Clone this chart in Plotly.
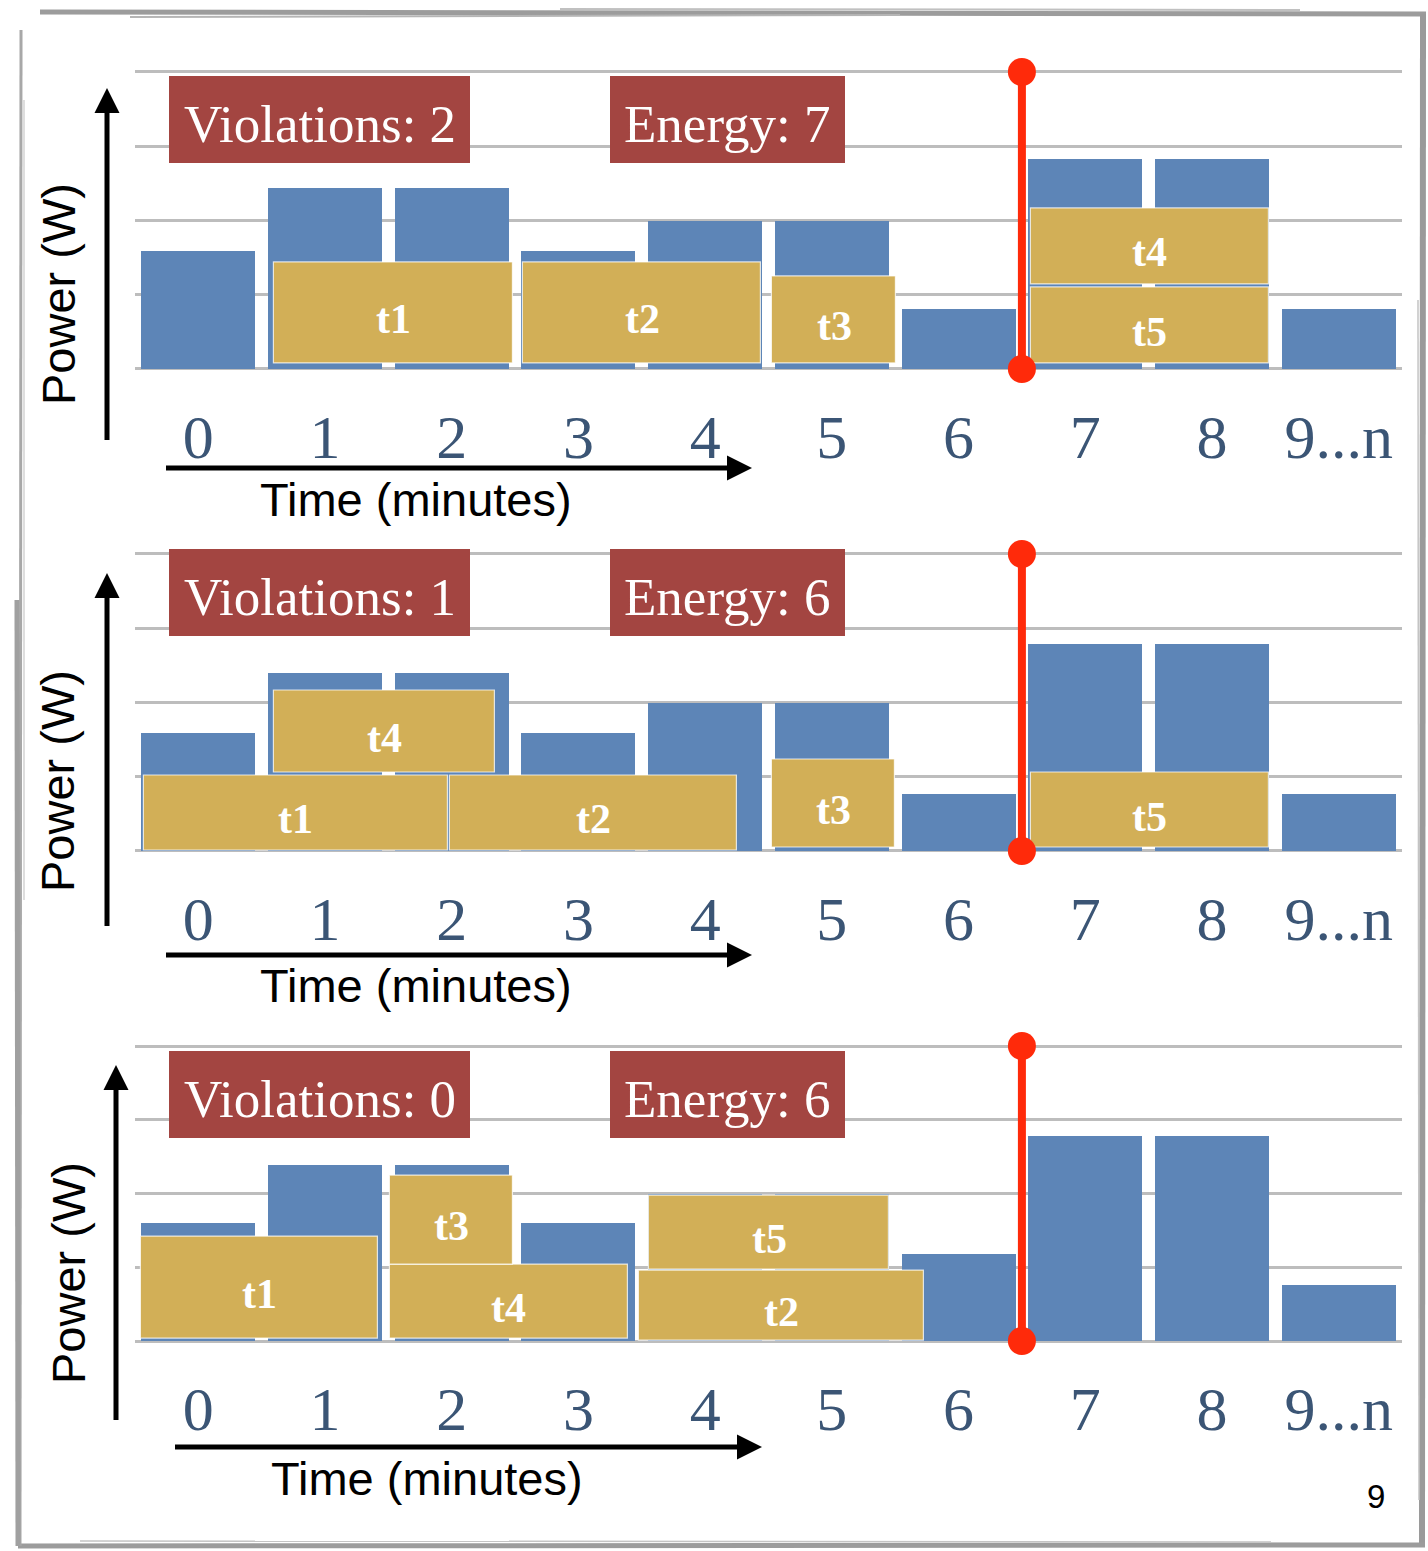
import plotly.graph_objects as go

W, H = 1428, 1551

# ---------------- data ----------------
slots = [0, 1, 2, 3, 4, 5, 6, 7, 8, 9]
slot_labels = ["0", "1", "2", "3", "4", "5", "6", "7", "8", "9...n"]

# available power per minute (grid units)
power_a = [1.60, 2.44, 2.44, 1.60, 2.00, 2.00, 0.82, 2.83, 2.83, 0.82]
power_b = [1.60, 2.40, 2.40, 1.60, 2.00, 2.00, 0.78, 2.80, 2.80, 0.78]
power_c = [1.60, 2.39, 2.39, 1.60, 2.00, 2.00, 1.19, 2.79, 2.79, 0.76]

# scheduled tasks: name, start, end, lower power, upper power
task_a_names = ["t1", "t2", "t3", "t4", "t5"]
task_a_start = [0.60, 2.565, 4.53, 6.57, 6.57]
task_a_end = [2.48, 4.44, 5.51, 8.45, 8.45]
task_a_low = [0.07, 0.07, 0.07, 1.14, 0.07]
task_a_high = [1.44, 1.44, 1.25, 2.16, 1.09]

task_b_names = ["t4", "t1", "t2", "t3", "t5"]
task_b_start = [0.60, -0.43, 1.99, 4.53, 6.57]
task_b_end = [2.34, 1.97, 4.25, 5.50, 8.45]
task_b_low = [1.05, 0.01, 0.01, 0.04, 0.04]
task_b_high = [2.16, 1.02, 1.02, 1.23, 1.05]

task_c_names = ["t1", "t4", "t3", "t2", "t5"]
task_c_start = [-0.455, 1.51, 1.51, 3.48, 3.56]
task_c_end = [1.42, 3.39, 2.48, 5.73, 5.45]
task_c_low = [0.03, 0.03, 1.04, 0.00, 0.97]
task_c_high = [1.41, 1.04, 2.24, 0.96, 1.97]

violations = [2, 1, 0]
energy = [7, 6, 6]
deadline = 6.5
y_grid = [0, 1, 2, 3, 4]

# ---------------- style ----------------
BLUE = "#5d85b7"
GOLD = "#d2af57"
BRICK = "#a34541"
RED = "#ff2a0a"
GRID = "#bdbdbd"
TICK = "#3b5575"
SERIF = "Liberation Serif"
SANS = "Liberation Sans"


def px(x):
    return x / W


def py(y):
    return 1 - y / H


# pixel layout of each panel: zero line, top grid line, decorations
panels = [
    dict(power=power_a, names=task_a_names, start=task_a_start, end=task_a_end,
         low=task_a_low, high=task_a_high,
         base=369, top=72, box=(76, 163), yarrow=(107, 440, 88),
         xarrow=(468, 166, 752), ytitle=(58, 294), xtitle=(416, 500)),
    dict(power=power_b, names=task_b_names, start=task_b_start, end=task_b_end,
         low=task_b_low, high=task_b_high,
         base=851, top=554, box=(549, 636), yarrow=(107, 926, 573),
         xarrow=(955, 166, 752), ytitle=(58, 781), xtitle=(416, 985)),
    dict(power=power_c, names=task_c_names, start=task_c_start, end=task_c_end,
         low=task_c_low, high=task_c_high,
         base=1341, top=1046, box=(1051, 1138), yarrow=(116, 1420, 1065),
         xarrow=(1447, 175, 762), ytitle=(68, 1273), xtitle=(427, 1478)),
]

X_LEFT, X_RIGHT = 135, 1402
PAD = 0.1

fig = go.Figure()
shapes = []
annotations = []
layout_axes = {}


def paper_text(x, y, text, **kw):
    d = dict(x=px(x), y=py(y), xref="paper", yref="paper", text=text,
             showarrow=False, xanchor="center", yanchor="middle")
    d.update(kw)
    annotations.append(d)


for k, p in enumerate(panels):
    sfx = "" if k == 0 else str(k + 1)
    xa, ya = "x" + sfx, "y" + sfx
    unit = (p["base"] - p["top"]) / 4.0
    bot_px = p["base"] + PAD * unit
    top_px = p["top"] - PAD * unit

    layout_axes["xaxis" + sfx] = dict(
        domain=[px(X_LEFT), px(X_RIGHT)], range=[-0.5, 9.5], anchor=ya,
        showgrid=False, zeroline=False, showline=False, ticks="",
        tickmode="array", tickvals=slots, ticktext=slot_labels,
        tickfont=dict(family=SERIF, size=62, color=TICK),
        ticklabelstandoff=19, fixedrange=True,
    )
    layout_axes["yaxis" + sfx] = dict(
        domain=[py(bot_px), py(top_px)], range=[-PAD, 4 + PAD], anchor=xa,
        showgrid=True, gridcolor=GRID, gridwidth=3, zeroline=False,
        showline=False, ticks="", tickmode="array", tickvals=y_grid,
        showticklabels=False, fixedrange=True,
    )

    # available power per minute
    fig.add_trace(go.Bar(
        x=slots, y=p["power"], width=0.9, marker=dict(color=BLUE, line=dict(width=0)),
        xaxis=xa, yaxis=ya, showlegend=False, hoverinfo="skip",
    ))

    # scheduled tasks
    centers = [(s + e) / 2 for s, e in zip(p["start"], p["end"])]
    widths = [e - s for s, e in zip(p["start"], p["end"])]
    heights = [h - l for l, h in zip(p["low"], p["high"])]
    fig.add_trace(go.Bar(
        x=centers, y=heights, base=p["low"], width=widths,
        marker=dict(color=GOLD, line=dict(color="rgba(255,255,255,0.75)", width=1.2)),
        xaxis=xa, yaxis=ya, showlegend=False, hoverinfo="skip",
    ))
    for name, c, l, h in zip(p["names"], centers, p["low"], p["high"]):
        annotations.append(dict(
            x=c, y=(l + h) / 2, xref=xa, yref=ya, text="<b>%s</b>" % name,
            showarrow=False, yshift=-6, xanchor="center", yanchor="middle",
            font=dict(family=SERIF, size=42, color="white"),
        ))

    # deadline marker
    fig.add_trace(go.Scatter(
        x=[deadline, deadline], y=[0, 4], mode="lines+markers",
        line=dict(color=RED, width=8), marker=dict(color=RED, size=28),
        xaxis=xa, yaxis=ya, showlegend=False, hoverinfo="skip", cliponaxis=False,
    ))

    # score boxes
    b0, b1 = p["box"]
    for (x0, x1), txt in (((169, 470), "Violations: %d" % violations[k]),
                          ((610, 845), "Energy: %d" % energy[k])):
        shapes.append(dict(type="rect", xref="paper", yref="paper",
                           x0=px(x0), x1=px(x1), y0=py(b1), y1=py(b0),
                           fillcolor=BRICK, line=dict(width=0), layer="above"))
        paper_text((x0 + x1) / 2, (b0 + b1) / 2 + 4, txt,
                   font=dict(family=SERIF, size=53, color="white"))

    # axis arrows
    ax_x, ay_bot, ay_tip = p["yarrow"]
    shapes.append(dict(type="line", xref="paper", yref="paper",
                       x0=px(ax_x), x1=px(ax_x), y0=py(ay_bot), y1=py(ay_tip + 20),
                       line=dict(color="black", width=5)))
    shapes.append(dict(type="path", xref="paper", yref="paper",
                       path="M %f %f L %f %f L %f %f Z" % (
                           px(ax_x - 12.5), py(ay_tip + 25), px(ax_x + 12.5), py(ay_tip + 25),
                           px(ax_x), py(ay_tip)),
                       fillcolor="black", line=dict(width=0)))
    bx_y, bx_left, bx_tip = p["xarrow"]
    shapes.append(dict(type="line", xref="paper", yref="paper",
                       x0=px(bx_left), x1=px(bx_tip - 20), y0=py(bx_y), y1=py(bx_y),
                       line=dict(color="black", width=5)))
    shapes.append(dict(type="path", xref="paper", yref="paper",
                       path="M %f %f L %f %f L %f %f Z" % (
                           px(bx_tip - 25), py(bx_y - 12.5), px(bx_tip - 25), py(bx_y + 12.5),
                           px(bx_tip), py(bx_y)),
                       fillcolor="black", line=dict(width=0)))

    # axis titles
    tx, ty = p["ytitle"]
    paper_text(tx, ty, "Power (W)", textangle=-90,
               font=dict(family=SANS, size=47, color="black"))
    tx, ty = p["xtitle"]
    paper_text(tx, ty, "Time (minutes)",
               font=dict(family=SANS, size=47, color="black"))

# slide number
paper_text(1376, 1496, "9", font=dict(family=SANS, size=33, color="black"))

# sketched frame around the slide
frame = [
    ((40, 12), (1426, 14), 5, "#9c9c9c"),
    ((130, 17), (900, 15), 2, "#b5b5b5"),
    ((560, 9), (1300, 10), 2, "#c0c0c0"),
    ((1423, 14), (1422, 1547), 6, "#9a9a9a"),
    ((1418, 300), (1419, 1500), 1.5, "#c4c4c4"),
    ((18, 1546), (1425, 1545), 5, "#9c9c9c"),
    ((80, 1541), (1300, 1542), 1.5, "#c4c4c4"),
    ((21, 30), (20, 1546), 3, "#a8a8a8"),
    ((17, 600), (18, 1546), 5, "#a0a0a0"),
    ((24, 100), (24, 900), 1.2, "#c8c8c8"),
]
for (x0, y0), (x1, y1), wdt, col in frame:
    shapes.append(dict(type="line", xref="paper", yref="paper",
                       x0=px(x0), y0=py(y0), x1=px(x1), y1=py(y1),
                       line=dict(color=col, width=wdt)))

fig.update_layout(
    width=W, height=H, margin=dict(l=0, r=0, t=0, b=0),
    paper_bgcolor="white", plot_bgcolor="white",
    barmode="overlay", bargap=0, showlegend=False,
    shapes=shapes, annotations=annotations, **layout_axes,
)

fig.write_html("out.html", config={"displayModeBar": False})
